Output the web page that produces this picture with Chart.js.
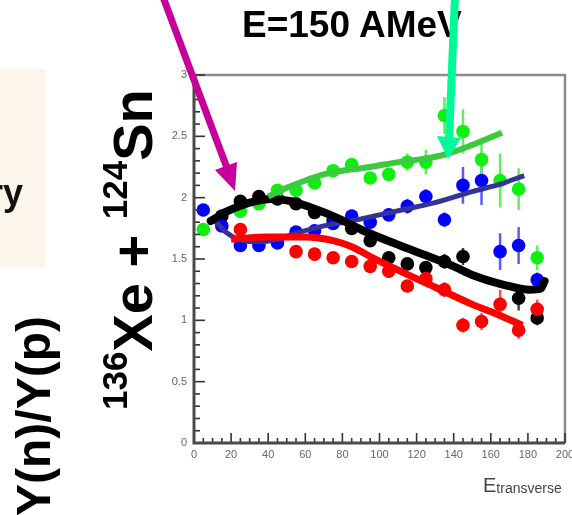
<!DOCTYPE html>
<html>
<head>
<meta charset="utf-8">
<script src="https://cdn.jsdelivr.net/npm/chart.js@4.4.1/dist/chart.umd.min.js"></script>
<style>
  html, body { margin: 0; padding: 0; background: #fff; }
  #wrap { position: relative; width: 572px; height: 515px; overflow: hidden; }
  #chart { position: absolute; left: 0; top: 0; }
  #over { position: absolute; left: 0; top: 0; pointer-events: none; font-family: "Liberation Sans", Arial, sans-serif; }
</style>
</head>
<body>
<div id="wrap">
  <canvas id="chart" width="572" height="515"></canvas>
  <svg id="over" width="572" height="515" xmlns="http://www.w3.org/2000/svg">
    <rect x="0" y="69" width="46" height="198" fill="#fcf5ea"/>
    <text x="-11" y="205" font-size="36" font-weight="bold" fill="#111">ry</text>
    <text x="242" y="37" font-size="37" font-weight="bold" fill="#000">E=150 AMeV</text>
    <text transform="translate(50,516) rotate(-90)" font-size="48" font-weight="bold" fill="#000">Y(n)/Y(p)</text>
    <text transform="translate(152,410) rotate(-90)" font-weight="bold" fill="#000" style="white-space:pre"><tspan font-size="35" dy="-25">136</tspan><tspan font-size="56" dy="25">Xe + </tspan><tspan font-size="35" dy="-25">124</tspan><tspan font-size="56" dy="25">Sn</tspan></text>
    <text x="483" y="492" font-size="20" fill="#444">E<tspan font-size="14" dy="1">transverse</tspan></text>
    <line x1="163" y1="-3" x2="227" y2="168" stroke="#c8009a" stroke-width="7"/>
    <polygon points="235,191 215,170 237,162" fill="#c8009a"/>
    <line x1="455" y1="-3" x2="449" y2="140" stroke="#00fa9a" stroke-width="8"/>
    <polygon points="448,159 437,136 461,138" fill="#00fa9a"/>
  </svg>
</div>
<script>
// bin centres of E_transverse
const xBins = [5, 15, 25, 35, 45, 55, 65, 75, 85, 95, 105, 115, 125, 135, 145, 155, 165, 175, 185];

// Y(n)/Y(p) per series (null = not visible)
const ratioGreen = [1.74, null, 1.89, 1.95, 2.06, 2.06, 2.12, 2.22, 2.27, 2.16, 2.19, 2.29, 2.29, 2.67, 2.54, 2.31, 2.14, 2.07, 1.51];
const ratioBlue  = [1.90, 1.77, 1.61, 1.61, 1.63, 1.72, 1.73, 1.79, 1.85, 1.80, 1.86, 1.93, 2.01, 1.82, 2.10, 2.14, 1.56, 1.61, 1.33];
const ratioBlack = [null, 1.85, 1.97, 2.01, 1.99, 1.95, 1.88, 1.82, 1.75, 1.65, 1.51, 1.46, 1.43, 1.48, 1.52, null, null, 1.18, 1.02];
const ratioRed   = [null, null, 1.74, null, 1.64, 1.56, 1.54, 1.51, 1.48, 1.44, 1.40, 1.28, 1.34, 1.25, 0.96, 0.99, 1.13, 0.92, 1.09];

// half error bars
const errGreen = [0.03, 0, 0.03, 0.03, 0.03, 0.03, 0.03, 0.03, 0.03, 0.04, 0.05, 0.07, 0.10, 0.15, 0.18, 0.15, 0.22, 0.17, 0.10];
const errBlue  = [0.03, 0.03, 0.03, 0.03, 0.03, 0.03, 0.03, 0.03, 0.04, 0.04, 0.05, 0.06, 0.06, 0.06, 0.15, 0.20, 0.15, 0.15, 0.06];
const errBlack = [0, 0.03, 0.03, 0.03, 0.03, 0.03, 0.03, 0.03, 0.03, 0.04, 0.04, 0.05, 0.05, 0.06, 0.07, 0, 0, 0.10, 0.06];
const errRed   = [0, 0, 0.03, 0, 0.03, 0.03, 0.03, 0.03, 0.03, 0.04, 0.04, 0.05, 0.05, 0.06, 0.06, 0.07, 0.12, 0.07, 0.08];

// fitted curves
const fitGreenX = [40, 50, 60, 70, 80, 95, 110, 125, 135, 150, 166];
const fitGreenY = [2.01, 2.08, 2.14, 2.19, 2.22, 2.25, 2.29, 2.32, 2.35, 2.43, 2.53];
const fitBlueX  = [10, 18, 24, 35, 45, 55, 70, 85, 100, 115, 130, 150, 165, 178];
const fitBlueY  = [1.83, 1.71, 1.66, 1.64, 1.66, 1.71, 1.77, 1.81, 1.86, 1.91, 1.96, 2.05, 2.11, 2.18];
const fitBlackX = [9, 18, 30, 42, 53, 63, 75, 93, 111, 125, 140, 150, 167, 181, 187, 189];
const fitBlackY = [1.81, 1.89, 1.96, 1.99, 1.97, 1.92, 1.85, 1.72, 1.61, 1.53, 1.44, 1.37, 1.29, 1.25, 1.26, 1.32];
const fitRedX   = [20, 40, 60, 75, 85, 95, 110, 130, 150, 165, 177];
const fitRedY   = [1.66, 1.68, 1.68, 1.65, 1.60, 1.52, 1.41, 1.27, 1.13, 1.04, 0.96];

const pts = vals => xBins.map((x, i) => ({ x, y: vals[i] })).filter(p => p.y !== null);
const curve = (xs, ys) => xs.map((x, i) => ({ x, y: ys[i] }));

const ERRORS = [
  { vals: ratioBlack, errs: errBlack, color: '#444' },
  { vals: ratioRed, errs: errRed, color: '#ff5050' },
  { vals: ratioBlue, errs: errBlue, color: '#5a5aff' },
  { vals: ratioGreen, errs: errGreen, color: '#5cf05c' }
];

const errorBars = {
  id: 'errorBars',
  beforeDatasetsDraw(chart) {
    const { ctx, scales: { x, y } } = chart;
    ctx.save();
    ctx.lineWidth = 2.5;
    ERRORS.forEach(s => {
      ctx.strokeStyle = s.color;
      xBins.forEach((xv, i) => {
        const v = s.vals[i], e = s.errs[i];
        if (v === null || !e) return;
        const px = x.getPixelForValue(xv);
        ctx.beginPath();
        ctx.moveTo(px, y.getPixelForValue(v - e));
        ctx.lineTo(px, y.getPixelForValue(v + e));
        ctx.stroke();
      });
    });
    ctx.restore();
  }
};

const rootFrame = {
  id: 'rootFrame',
  afterDatasetsDraw(chart) {
    const { ctx, chartArea: a, scales: { x, y } } = chart;
    ctx.save();
    ctx.strokeStyle = '#8c8c8c'; ctx.lineWidth = 2.5;
    ctx.beginPath(); ctx.moveTo(a.left, a.top); ctx.lineTo(a.right, a.top); ctx.lineTo(a.right, a.bottom); ctx.stroke();
    ctx.strokeStyle = '#333'; ctx.lineWidth = 1.6;
    for (let v = 0; v <= 200; v += 5) {
      const px = x.getPixelForValue(v), len = v % 20 === 0 ? 10 : 5;
      ctx.beginPath(); ctx.moveTo(px, a.bottom); ctx.lineTo(px, a.bottom - len); ctx.stroke();
    }
    for (let i = 0; i <= 30; i++) {
      const py = y.getPixelForValue(i / 10), len = i % 5 === 0 ? 11 : 6;
      ctx.beginPath(); ctx.moveTo(a.left - 1, py); ctx.lineTo(a.left + len, py); ctx.stroke();
    }
    ctx.strokeStyle = '#4a4a4a'; ctx.lineWidth = 3;
    ctx.beginPath(); ctx.moveTo(a.left, a.top); ctx.lineTo(a.left, a.bottom); ctx.lineTo(a.right, a.bottom); ctx.stroke();
    ctx.restore();
  }
};

Chart.defaults.font.family = '"Liberation Sans", Arial, sans-serif';

const dotSet = (data, color, order) => ({ data, showLine: false, pointRadius: 6.8, pointBorderWidth: 0, backgroundColor: color, borderColor: color, order });
const lineSet = (data, color, width, order, cap) => ({ data, showLine: true, pointRadius: 0, borderColor: color, borderWidth: width, cubicInterpolationMode: 'monotone', borderCapStyle: cap || 'butt', order });

new Chart(document.getElementById('chart'), {
  type: 'scatter',
  data: {
    datasets: [
      lineSet(curve(fitGreenX, fitGreenY), '#3dc93d', 6, 1),
      lineSet(curve(fitBlackX, fitBlackY), '#000000', 8, 2, 'round'),
      lineSet(curve(fitRedX, fitRedY), '#ff0000', 7, 3),
      lineSet(curve(fitBlueX, fitBlueY), '#333399', 5, 4),
      dotSet(pts(ratioGreen), '#10f010', 5),
      dotSet(pts(ratioBlue), '#0000ff', 6),
      dotSet(pts(ratioRed), '#ff0000', 7),
      dotSet(pts(ratioBlack), '#000000', 8)
    ]
  },
  options: {
    responsive: false,
    animation: false,
    layout: { padding: { top: 75, right: 7, left: 0, bottom: 0 } },
    plugins: { legend: { display: false }, tooltip: { enabled: false } },
    scales: {
      x: {
        type: 'linear', min: 0, max: 200,
        ticks: { stepSize: 20, autoSkip: false, maxRotation: 0, padding: 5, color: '#666', font: { size: 11 } },
        grid: { display: false, drawTicks: false },
        border: { display: false },
        afterFit(s) { s.height = 72; s.paddingLeft = 0; s.paddingRight = 0; }
      },
      y: {
        min: 0, max: 3,
        ticks: { stepSize: 0.5, padding: 7, color: '#666', font: { size: 11 }, callback: v => String(v) },
        grid: { display: false, drawTicks: false },
        border: { display: false },
        afterFit(s) { s.width = 194; s.paddingTop = 0; s.paddingBottom = 0; }
      }
    }
  },
  plugins: [errorBars, rootFrame]
});
</script>
</body>
</html>
